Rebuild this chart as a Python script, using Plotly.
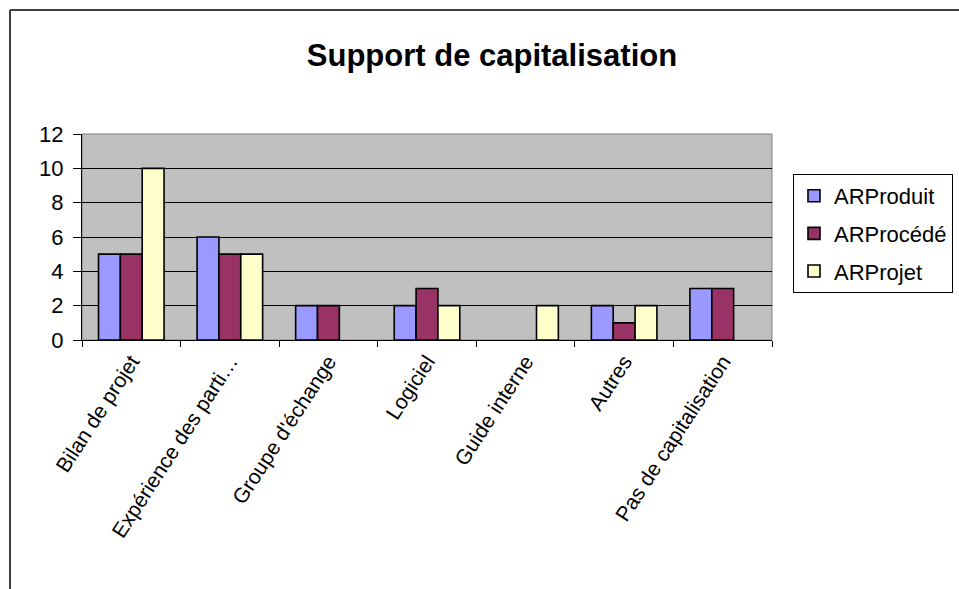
import plotly.graph_objects as go

categories = ["Bilan de projet", "Expérience des parti…", "Groupe d'échange",
              "Logiciel", "Guide interne", "Autres", "Pas de capitalisation"]
ar_produit = [5, 6, 2, 2, None, 2, 3]
ar_procede = [5, 5, 2, 3, None, 1, 3]
ar_projet = [10, 5, None, 2, 2, 2, None]
y_ticks = [0, 2, 4, 6, 8, 10, 12]

W, H = 959, 589
ML, MR, MT, MB = 82, 187, 134, 249
PW, PH = W - ML - MR, H - MT - MB

FONT = "Liberation Sans, Arial, sans-serif"

fig = go.Figure()
for name, vals, col in [("ARProduit", ar_produit, "#9999FF"),
                        ("ARProcédé", ar_procede, "#993366"),
                        ("ARProjet", ar_projet, "#FFFFCC")]:
    fig.add_trace(go.Bar(x=categories, y=vals, name=name, legendgroup=name,
                         marker=dict(color=col, line=dict(color="black", width=1.6))))

def px_x(px):
    return (px - ML) / PW

def px_y(py):
    return (H - MB - py) / PH

shapes = [
    dict(type="rect", xref="paper", yref="paper", x0=0, x1=1, y0=0, y1=1,
         line=dict(color="#808080", width=1), layer="below"),
    dict(type="line", xref="paper", yref="paper", x0=px_x(10), x1=px_x(10),
         y0=px_y(10), y1=px_y(600), line=dict(color="#404040", width=2)),
    dict(type="line", xref="paper", yref="paper", x0=px_x(10), x1=px_x(970),
         y0=px_y(10), y1=px_y(10), line=dict(color="#404040", width=2)),
]

fig.update_layout(
    width=W, height=H,
    margin=dict(l=ML, r=MR, t=MT, b=MB, autoexpand=False),
    paper_bgcolor="white", plot_bgcolor="#C0C0C0",
    barmode="group", bargap=0.335, bargroupgap=0,
    font=dict(family=FONT, color="black"),
    title=dict(text="<b>Support de capitalisation</b>", x=0.513, xref="container",
               y=1 - 55 / H, yref="container", xanchor="center", yanchor="middle",
               font=dict(size=31, family=FONT, color="black")),
    legend=dict(x=px_x(793), y=px_y(174), xanchor="left", yanchor="top",
                bordercolor="black", borderwidth=1, bgcolor="white",
                font=dict(size=22, family=FONT), tracegroupgap=6,
                entrywidth=150, itemwidth=30),
    shapes=shapes,
    showlegend=True,
)
fig.update_xaxes(type="category", tickson="boundaries", ticks="outside", ticklen=6,
                 tickcolor="black", showline=True, linecolor="black", linewidth=1,
                 tickangle=-57, tickfont=dict(size=21, family=FONT), showgrid=False)
fig.update_yaxes(range=[0, 12], tickvals=y_ticks, ticks="outside", ticklen=8,
                 tickcolor="black", showline=True, linecolor="black", linewidth=1,
                 showgrid=True, gridcolor="black", gridwidth=1, zeroline=False,
                 ticklabelstandoff=5, tickfont=dict(size=22, family=FONT))

fig.write_html("out.html", config={"displayModeBar": False},
               post_script="document.body.style.margin='0';")
